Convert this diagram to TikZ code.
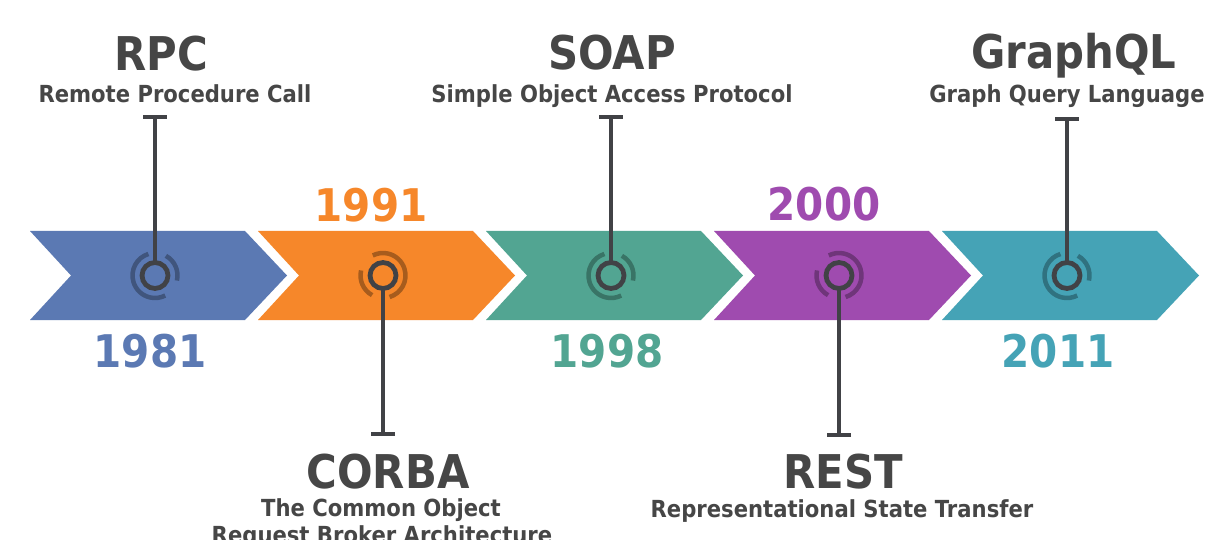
\documentclass[tikz,border=0pt]{standalone}
\usepackage{fontspec}
\setmainfont{DejaVu Sans}[FakeStretch=0.9]
\usetikzlibrary{arrows.meta}
\definecolor{cBlue}{HTML}{5B79B3}
\definecolor{cOrange}{HTML}{F6872A}
\definecolor{cTeal}{HTML}{52A592}
\definecolor{cPurple}{HTML}{9F4BAF}
\definecolor{cCyan}{HTML}{45A3B6}
\definecolor{ink}{HTML}{414246}
\definecolor{txt}{HTML}{464646}
\newcommand\mychevron[2]{\fill[#2] (#1,231) -- ++(215,0) -- ++(42,44.5) -- ++(-42,44.5) -- ++(-215,0) -- ++(41,-44.5) -- cycle;}
\newcommand\myhalo[3]{%
  \draw[line width=4.5pt, #2] ([shift={(#1.center)}]{-107+#3}:22.5) arc[start angle={-107+#3}, end angle={-297+#3}, radius=22.5];
  \draw[line width=4.5pt, #2] ([shift={(#1.center)}]{13+#3}:22.5) arc[start angle={13+#3}, end angle={-61+#3}, radius=22.5];}
\begin{document}
\begin{tikzpicture}[x=1pt,y=-1pt,
  ring/.style={circle, draw=ink, line width=4.8pt, minimum size=26pt, inner sep=0pt, outer sep=0pt},
  conn/.style={draw=ink, line width=4.5pt, {Bar[width=24pt]}-},
  title/.style={font=\bfseries\fontsize{46.5}{50}\selectfont, text=txt, anchor=base, inner sep=0pt},
  sub/.style={font=\bfseries\fontsize{23.5}{27}\selectfont, text=txt, anchor=base, inner sep=0pt},
  year/.style={font=\bfseries\fontsize{45}{50}\selectfont, anchor=base, inner sep=0pt}]
\useasboundingbox[fill=white] (0,0) rectangle (1210,540);
% chevrons
\mychevron{30}{cBlue}
\mychevron{258}{cOrange}
\mychevron{486}{cTeal}
\mychevron{714}{cPurple}
\mychevron{942}{cCyan}
% circles
\node[ring] (c1) at (155,275.5) {};
\node[ring] (c2) at (383,275.5) {};
\node[ring] (c3) at (611,275.5) {};
\node[ring] (c4) at (839,275.5) {};
\node[ring] (c5) at (1067,275.5) {};
\myhalo{c1}{cBlue!70!black}{0}
\myhalo{c2}{cOrange!68!black}{180}
\myhalo{c3}{cTeal!70!black}{0}
\myhalo{c4}{cPurple!70!black}{180}
\myhalo{c5}{cCyan!70!black}{0}
% connector ends
\coordinate (t1) at (155,115);
\coordinate (t2) at (383,436);
\coordinate (t3) at (611,115);
\coordinate (t4) at (839,437);
\coordinate (t5) at (1067,117);
\draw[conn] (t1) -- (c1);
\draw[conn] (t2) -- (c2);
\draw[conn] (t3) -- (c3);
\draw[conn] (t4) -- (c4);
\draw[conn] (t5) -- (c5);
% titles
\node[title] (rpc) at (161,71) {RPC};
\node[sub] (rpcs) at (175,103) {Remote Procedure Call};
\node[title] (soap) at (612,70) {SOAP};
\node[sub] (soaps) at (612,103) {Simple Object Access Protocol};
\node[title] (gql) at (1074,69) {GraphQL};
\node[sub] (gqls) at (1067,103) {Graph Query Language};
\node[title] (corba) at (388,488) {CORBA};
\node[sub] (corbas1) at (381,516) {The Common Object};
\node[sub] (corbas2) at (382,543) {Request Broker Architecture};
\node[title] (rest) at (843,488) {REST};
\node[sub] (rests) at (842,517) {Representational State Transfer};
% years
\node[year, text=cBlue] (y1) at (150,367) {1981};
\node[year, text=cOrange] (y2) at (371,222) {1991};
\node[year, text=cTeal] (y3) at (607,367) {1998};
\node[year, text=cPurple] (y4) at (824,221) {2000};
\node[year, text=cCyan] (y5) at (1058,367) {2011};
\end{tikzpicture}
\end{document}
